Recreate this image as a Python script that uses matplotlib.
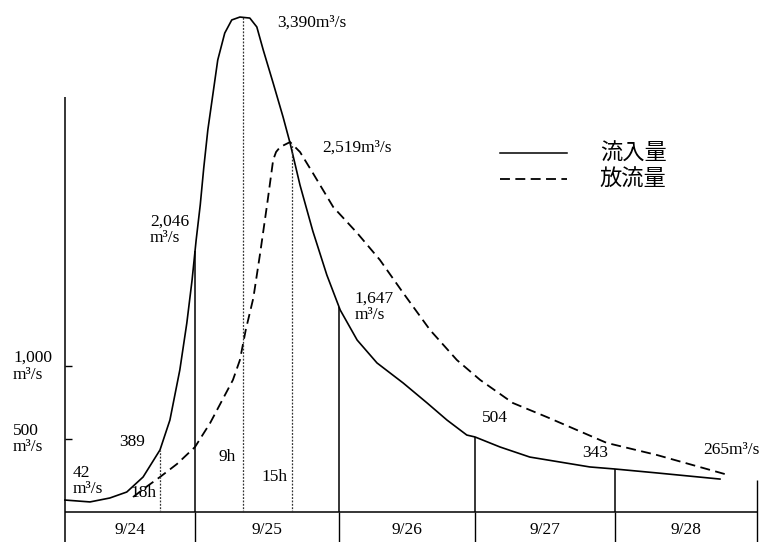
import matplotlib.pyplot as plt
import numpy as np

# time in hours from 9/24 0h, discharge in m3/s
inflow_h = [1.7, 6.0, 9.4, 12.3, 15.1, 18.0, 19.7, 21.4, 22.6, 23.5, 24.2, 24.9, 25.5,
            26.2, 27.1, 27.9, 29.1, 30.3, 31.7, 33.4, 34.6, 35.7, 37.4, 39.1, 40.3,
            42.0, 44.2, 46.6, 48.9, 51.8, 55.2, 59.7, 63.8, 67.2, 70.6, 72.0, 76.3,
            81.4, 91.7, 96.0, 103.2, 114.0]
inflow_q = [82, 69, 96, 137, 240, 426, 631, 975, 1297, 1592, 1867, 2107, 2361,
            2622, 2876, 3102, 3287, 3377, 3397, 3390, 3329, 3171, 2944, 2711, 2532,
            2244, 1928, 1627, 1386, 1180, 1023, 885, 748, 631, 528, 515, 446,
            377, 309, 295, 268, 226]

outflow_h = [13.4, 15.4, 18.0, 20.9, 24.0, 26.6, 30.5, 31.7, 32.7, 34.0, 35.2, 36.4,
             37.4, 37.9, 38.6, 40.3, 42.0, 44.2, 47.7, 51.8, 55.7, 59.7, 64.3, 68.9,
             72.9, 78.5, 84.3, 94.6, 103.2, 115.4]
outflow_q = [103, 165, 240, 329, 446, 611, 906, 1043, 1249, 1468, 1784, 2121,
             2416, 2471, 2505, 2539, 2471, 2327, 2093, 1915, 1730, 1503, 1249, 1043,
             906, 748, 652, 474, 391, 254]

day_edges = [1.7, 24.0, 48.7, 72.0, 96.0, 120.35]
day_labels = ["9/24", "9/25", "9/26", "9/27", "9/28"]
marker_hours = [18.0, 32.2, 40.6]          # 18h, 9h, 15h
marker_labels = ["18h", "9h", "15h"]

y_ticks = [1000, 500]
y_tick_labels = ["1,000\nm³/s", "500\nm³/s"]

serif = "Liberation Serif"
cjk = ["Noto Sans CJK JP", "DejaVu Sans"]
fs = 12.5

fig = plt.figure(figsize=(7.63, 5.42), dpi=100)
ax = fig.add_axes([0, 0, 1, 1])
ax.set_xlim(-9.43, 121.38)
ax.set_ylim(-206, 3514)
ax.axis("off")

# frame: y axis, base line, table row of dates
ax.vlines(day_edges[0], -206, 2848, color="black", lw=1.1)
ax.hlines(0, day_edges[0], day_edges[-1], color="black", lw=1.1)
for e in day_edges[1:-1]:
    ax.vlines(e, -206, 0, color="black", lw=1.0)
ax.vlines(day_edges[-1], -206, 220, color="black", lw=1.0)
for i, lab in enumerate(day_labels):
    ax.text((day_edges[i] + day_edges[i + 1]) / 2, -124, lab, ha="center", va="center",
            fontsize=fs, family=serif)

# y ticks
for t, lab in zip(y_ticks, y_tick_labels):
    ax.hlines(t, day_edges[0], day_edges[0] + 1.2, color="black", lw=1.0)
    ax.text(-7.2, t, lab, ha="left", va="center", fontsize=fs, family=serif,
            linespacing=1.05)

# curves
ax.plot(inflow_h, inflow_q, color="black", lw=1.2, solid_joinstyle="round")
ax.plot(outflow_h, outflow_q, color="black", lw=1.3, dashes=(5.5, 3))

# solid verticals at day boundaries up to inflow
for e in day_edges[1:-1]:
    top = np.interp(e, inflow_h, inflow_q)
    ax.vlines(e, 0, top, color="black", lw=1.1)

# dotted time markers
tops = [np.interp(marker_hours[0], inflow_h, inflow_q),
        max(inflow_q),
        np.interp(marker_hours[2], outflow_h, outflow_q)]
for h, top in zip(marker_hours, tops):
    ax.vlines(h, 0, top, color="#333333", lw=0.9, linestyles=[(0, (1.5, 1.2))])

# annotations
ax.text(3.1, 213, "42\nm³/s", ha="left", va="center", fontsize=fs, family=serif, linespacing=1.05)
ax.text(13.2, 480, "389", ha="center", va="center", fontsize=fs, family=serif)
ax.text(15.1, 130, marker_labels[0], ha="center", va="center", fontsize=fs, family=serif)
ax.text(29.5, 377, marker_labels[1], ha="center", va="center", fontsize=fs, family=serif)
ax.text(37.7, 240, marker_labels[2], ha="center", va="center", fontsize=fs, family=serif)
ax.text(16.3, 1935, "2,046\nm³/s", ha="left", va="center", fontsize=fs, family=serif, linespacing=1.05)
ax.text(38.1, 3356, "3,390m³/s", ha="left", va="center", fontsize=fs, family=serif)
ax.text(45.9, 2498, "2,519m³/s", ha="left", va="center", fontsize=fs, family=serif)
ax.text(51.3, 1407, "1,647\nm³/s", ha="left", va="center", fontsize=fs, family=serif, linespacing=1.05)
ax.text(75.4, 645, "504", ha="center", va="center", fontsize=fs, family=serif)
ax.text(92.6, 405, "343", ha="center", va="center", fontsize=fs, family=serif)
ax.text(111.1, 425, "265m³/s", ha="left", va="center", fontsize=fs, family=serif)

# legend drawn by hand like the original
ax.plot([76.3, 87.8], [2464, 2464], color="black", lw=1.1)
ax.plot([76.3, 87.8], [2285, 2285], color="black", lw=1.3, dashes=(5.5, 3))
ax.text(93.4, 2464, "流入量", ha="left", va="center", fontsize=16, family=cjk)
ax.text(93.4, 2285, "放流量", ha="left", va="center", fontsize=16, family=cjk)

fig.savefig("out.png", dpi=100)
